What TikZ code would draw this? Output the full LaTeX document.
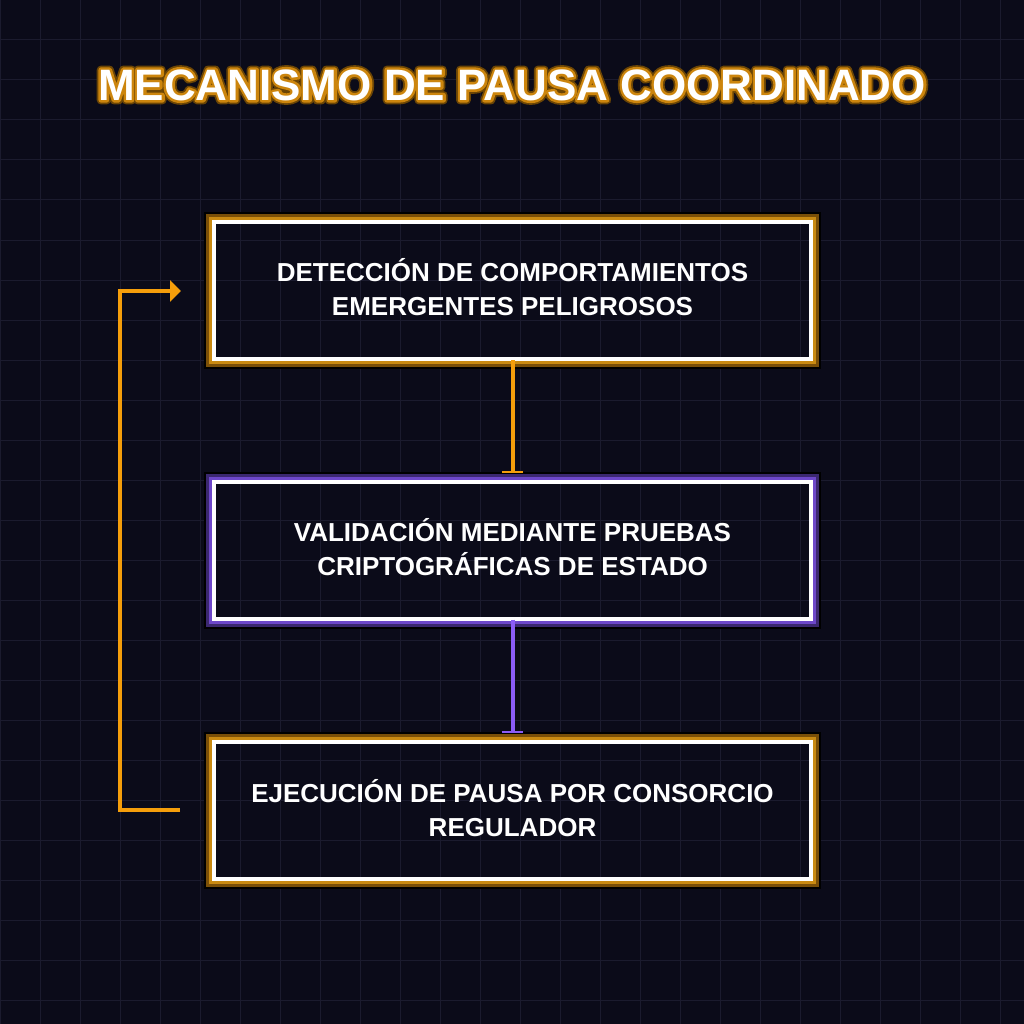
\documentclass[tikz,border=0pt]{standalone}
\usepackage{fontspec}
\setmainfont{Liberation Sans}
\usetikzlibrary{arrows.meta,calc}
\definecolor{bg}{HTML}{0B0B19}
\definecolor{gridc}{HTML}{1B1B2E}
\definecolor{orng}{HTML}{F59E0B}
\definecolor{orngmid}{HTML}{C98A12}
\definecolor{orngdark}{HTML}{7A4F08}
\definecolor{purp}{HTML}{8B5CF6}
\definecolor{purpmid}{HTML}{6D47C9}
\definecolor{purpdark}{HTML}{3B2870}
\tikzset{
  stepbox/.style={draw=white, line width=4pt, outer sep=0pt, inner sep=0pt,
    minimum width=597pt, minimum height=137pt},
  boxtext/.style={align=center, text=white, inner sep=0pt,
    font=\bfseries\fontsize{26}{34}\selectfont},
  titletext/.style={font=\bfseries\fontsize{44}{50}\selectfont, text=white},
  flowarrow/.style={line width=4pt, -{Bar[width=21pt,line width=2pt]}},
  loop/.style={orng, line width=4pt, -{Triangle[length=11pt,width=21pt]}},
}
\newcommand\glowbox[3]{%
  \draw[#2, line width=3pt] ($(#1.north west)+(-3.5,-3.5)$) rectangle ($(#1.south east)+(3.5,3.5)$);
  \draw[#3, line width=3pt] ($(#1.north west)+(-6.5,-6.5)$) rectangle ($(#1.south east)+(6.5,6.5)$);
  \draw[black, line width=2pt] ($(#1.north west)+(-9,-9)$) rectangle ($(#1.south east)+(9,9)$);
}
\newcommand\strokeonly[3]{\special{pdf:literal direct 1 Tr #1 w 1 J 1 j #2 RG}#3\special{pdf:literal direct 0 Tr}}
\newcommand\glowtext[1]{%
  \rlap{\strokeonly{8.5}{0.42 0.27 0.02}{#1}}%
  \rlap{\strokeonly{5}{0.80 0.52 0.05}{#1}}%
  #1}
\begin{document}
\begin{tikzpicture}[x=1pt,y=-1pt]
\fill[bg] (0,0) rectangle (1024,1024);
\useasboundingbox (0,0) rectangle (1024,1024);
\foreach \g in {0,40,...,1000} {
  \draw[gridc, line width=1pt] (\g,0) -- (\g,1024);
  \draw[gridc, line width=1pt] (0,\g) -- (1024,\g);
}
% title
\node[titletext] (title) at (512,85) {\glowtext{MECANISMO DE PAUSA COORDINADO}};
% boxes
\node[stepbox] (a) at (512.5,290.5) {};
\node[stepbox] (b) at (512.5,550) {};
\node[stepbox] (c) at (512.5,810) {};
\node[boxtext] (at) at ($(a)+(0,-3)$) {DETECCIÓN DE COMPORTAMIENTOS\\EMERGENTES PELIGROSOS};
\node[boxtext] (bt) at ($(b)+(0,-3)$) {VALIDACIÓN MEDIANTE PRUEBAS\\CRIPTOGRÁFICAS DE ESTADO};
\node[boxtext] (ct) at ($(c)+(0,-2)$) {EJECUCIÓN DE PAUSA POR CONSORCIO\\REGULADOR};
\glowbox{a}{orngmid}{orngdark}
\glowbox{b}{purpmid}{purpdark}
\glowbox{c}{orngmid}{orngdark}
% arrows
\draw[flowarrow, orng] ($(a.south)+(0,1)$) -- ($(b.north)+(0,-9)$);
\draw[flowarrow, purp] ($(b.south)+(0,1)$) -- ($(c.north)+(0,-9)$);
\coordinate (f1) at (180,810);
\coordinate (f2) at (120,810);
\coordinate (f3) at (120,291);
\coordinate (f4) at (181,291);
\draw[loop] (f1) -- (f2) -- (f3) -- (f4);
\end{tikzpicture}
\end{document}
